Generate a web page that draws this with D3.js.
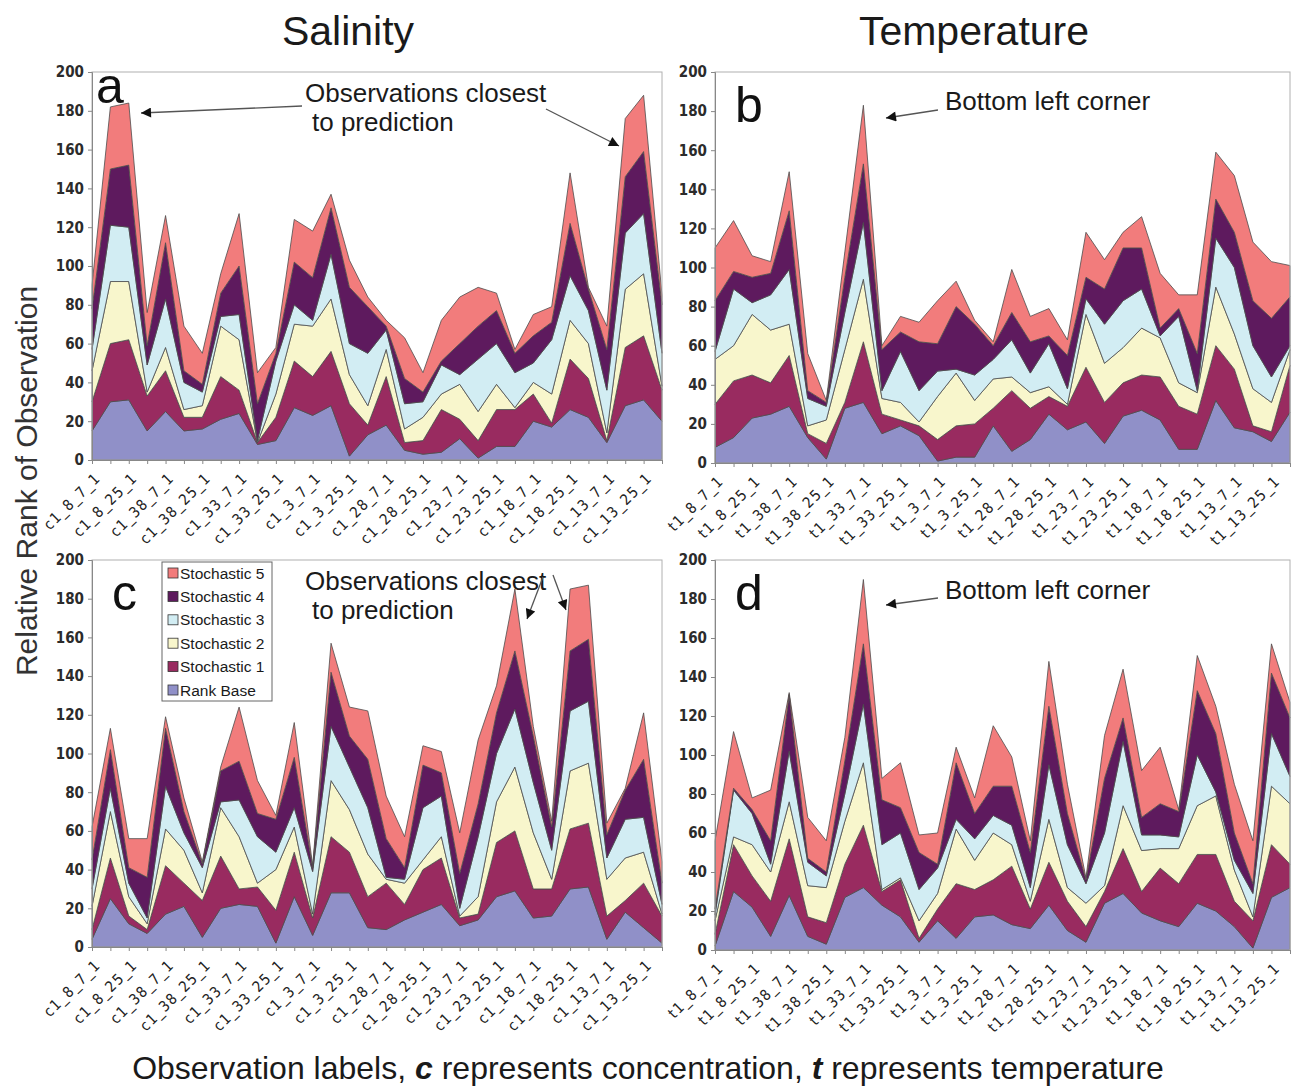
<!DOCTYPE html>
<html>
<head>
<meta charset="utf-8">
<script src="https://cdn.jsdelivr.net/npm/d3@7"></script>
<style>
  body { margin: 0; background: #fff; }
  svg { display: block; font-family: "Liberation Sans", Arial, sans-serif; }
</style>
</head>
<body>
<svg id="chart" width="1294" height="1086"></svg>
<script>
// series, bottom to top of the stack
const seriesNames = ['Rank Base', 'Stochastic 1', 'Stochastic 2', 'Stochastic 3', 'Stochastic 4', 'Stochastic 5'];
const seriesColors = ['#9090c8', '#992b60', '#f8f6cc', '#d2edf3', '#5e1a5e', '#f27c7c'];

// every other observation gets a label on the axis
const salinityLabels = ['c1_8_7_1', 'c1_8_25_1', 'c1_38_7_1', 'c1_38_25_1', 'c1_33_7_1', 'c1_33_25_1', 'c1_3_7_1', 'c1_3_25_1',
  'c1_28_7_1', 'c1_28_25_1', 'c1_23_7_1', 'c1_23_25_1', 'c1_18_7_1', 'c1_18_25_1', 'c1_13_7_1', 'c1_13_25_1'];
const temperatureLabels = ['t1_8_7_1', 't1_8_25_1', 't1_38_7_1', 't1_38_25_1', 't1_33_7_1', 't1_33_25_1', 't1_3_7_1', 't1_3_25_1',
  't1_28_7_1', 't1_28_25_1', 't1_23_7_1', 't1_23_25_1', 't1_18_7_1', 't1_18_25_1', 't1_13_7_1', 't1_13_25_1'];
const yTicks = [0, 20, 40, 60, 80, 100, 120, 140, 160, 180, 200];

// panel a - salinity
const aRank = [15,30,31,15,25,15,16,21,24,8,10,27,23,28,2,13,18,5,3,4,11,1,7,7,20,17,26,22,9,28,31,20];
const aS1 = [15,30,31,18,21,7,6,22,12,1,12,24,20,28,27,5,25,4,7,22,10,9,19,19,14,2,26,20,1,30,33,16];
const aS2 = [16,32,30,2,12,4,6,26,26,0,12,19,26,27,15,10,14,7,12,8,18,15,13,1,6,15,20,18,4,30,32,2];
const aS3 = [11,29,28,14,25,14,7,5,13,1,17,10,3,23,16,27,10,13,8,15,5,27,21,18,10,28,23,17,22,29,31,17];
const aS4 = [21,29,32,10,29,6,4,12,25,19,4,22,22,24,29,24,2,13,5,2,16,17,17,10,14,9,27,11,21,29,32,25];
const aS5 = [12,32,32,17,14,23,16,10,27,16,3,22,24,7,14,5,3,21,10,21,24,20,9,2,11,8,26,1,12,30,29,5];

// panel b - temperature
const bRank = [8,13,23,25,29,13,2,28,31,15,19,14,1,3,3,19,6,12,25,17,21,10,24,27,22,7,7,32,18,16,11,26];
const bS1 = [22,29,22,16,26,2,8,3,31,10,3,5,11,16,17,9,31,16,9,12,28,21,17,18,22,22,18,28,30,3,5,24];
const bS2 = [23,18,31,27,16,4,12,27,32,8,9,2,22,27,12,15,7,8,5,1,27,20,18,24,20,12,11,30,18,19,15,8];
const bS3 = [4,29,6,18,28,14,7,19,29,4,26,16,13,2,13,10,19,10,22,8,8,20,24,20,1,34,1,25,34,22,13,2];
const bS4 = [26,9,13,11,30,4,2,18,30,21,10,25,14,32,26,7,14,16,4,17,11,18,27,21,4,4,19,20,18,23,30,25];
const bS5 = [27,26,11,6,20,19,1,13,30,2,8,10,22,13,2,2,22,13,14,8,23,15,8,16,28,7,30,24,29,30,29,16];

// panel c - salinity
const cRank = [4,25,12,7,17,21,5,20,22,21,2,26,6,28,28,10,9,14,18,22,11,14,26,29,15,16,30,31,4,18,10,2];
const cS1 = [5,21,4,2,25,12,19,27,8,10,17,23,9,29,21,16,24,8,22,24,4,3,28,31,15,14,31,33,12,6,23,14];
const cS2 = [12,24,10,3,19,17,4,25,27,2,21,13,2,29,22,22,2,11,5,11,1,9,21,33,29,5,30,31,19,22,16,1];
const cS3 = [9,12,7,3,22,9,13,3,19,24,9,10,22,28,22,24,1,2,27,21,4,31,25,30,26,15,31,32,11,20,18,5];
const cS4 = [15,20,8,21,30,11,2,16,20,12,17,26,2,28,16,25,20,6,22,12,18,17,21,30,24,12,31,32,12,15,30,11];
const cS5 = [17,11,15,20,6,7,1,2,28,17,2,18,1,15,15,25,22,16,10,11,21,33,14,32,5,3,32,28,6,1,24,11];

// panel d - temperature
const dRank = [2,30,22,7,28,7,3,27,32,23,17,4,15,6,17,18,13,11,23,10,4,24,29,19,15,12,24,20,12,1,27,32];
const dS1 = [6,24,16,18,29,10,11,17,32,7,19,2,6,28,14,18,30,10,22,15,8,6,23,11,27,22,25,29,13,14,27,12];
const dS2 = [7,4,16,15,19,16,18,22,32,1,1,9,8,28,15,24,11,4,22,7,12,3,22,21,10,18,25,30,16,2,30,31];
const dS3 = [3,24,16,4,26,12,6,14,30,23,23,16,13,5,11,9,10,7,28,22,10,27,33,8,7,6,26,2,5,12,27,14];
const dS4 = [3,1,2,12,29,2,2,17,31,23,13,19,2,29,13,15,20,18,30,16,2,28,12,9,16,13,33,30,14,5,31,30];
const dS5 = [35,29,6,26,1,21,16,12,33,11,23,9,16,8,8,31,15,6,23,15,1,22,25,24,29,1,18,14,25,22,15,8];

const panels = [
  {letter: 'a', left: 92, right: 662, top: 72, bottom: 460, labels: salinityLabels, series: [aRank, aS1, aS2, aS3, aS4, aS5]},
  {letter: 'b', left: 715, right: 1290, top: 72, bottom: 463, labels: temperatureLabels, series: [bRank, bS1, bS2, bS3, bS4, bS5]},
  {letter: 'c', left: 92, right: 662, top: 560, bottom: 947, labels: salinityLabels, series: [cRank, cS1, cS2, cS3, cS4, cS5]},
  {letter: 'd', left: 715, right: 1290, top: 560, bottom: 950, labels: temperatureLabels, series: [dRank, dS1, dS2, dS3, dS4, dS5]}
];

const svg = d3.select('#chart');
const narrow = '"DejaVu Sans Condensed", "Liberation Sans Narrow", Arial, sans-serif';

svg.append('defs').append('marker')
    .attr('id', 'head')
    .attr('viewBox', '0 0 10 10')
    .attr('refX', 10).attr('refY', 5)
    .attr('markerWidth', 15).attr('markerHeight', 10)
    .attr('markerUnits', 'userSpaceOnUse')
    .attr('orient', 'auto')
  .append('path')
    .attr('d', 'M0,0L10,5L0,10Z')
    .attr('fill', '#111');

function drawPanel(p) {
  const n = p.series[0].length;
  const x = d3.scalePoint().domain(d3.range(n)).range([p.left, p.right]);
  const y = d3.scaleLinear().domain([0, 200]).range([p.bottom, p.top]);
  const g = svg.append('g').attr('class', 'panel-' + p.letter);

  const rows = d3.range(n).map(i => {
    const r = {};
    seriesNames.forEach((k, j) => r[k] = p.series[j][i]);
    return r;
  });
  const layers = d3.stack().keys(seriesNames)(rows);
  const area = d3.area()
      .x((d, i) => x(i))
      .y0(d => y(d[0]))
      .y1(d => y(d[1]));

  g.selectAll('path.layer')
    .data(layers)
    .join('path')
      .attr('class', 'layer')
      .attr('fill', (d, i) => seriesColors[i])
      .attr('stroke', '#4d4d4d')
      .attr('stroke-width', 0.8)
      .attr('stroke-linejoin', 'round')
      .attr('d', area);

  // plot frame
  g.append('rect')
    .attr('x', p.left).attr('y', p.top)
    .attr('width', p.right - p.left).attr('height', p.bottom - p.top)
    .attr('fill', 'none')
    .attr('stroke', '#b0b0b0');

  const ya = g.append('g')
      .attr('transform', `translate(${p.left},0)`)
      .call(d3.axisLeft(y).tickValues(yTicks).tickSize(4).tickPadding(4));
  ya.select('.domain').attr('stroke', '#888');
  ya.selectAll('.tick line').attr('stroke', '#888');
  ya.selectAll('text')
      .attr('font-family', narrow)
      .attr('font-weight', 'bold')
      .attr('font-size', 15)
      .attr('fill', '#2b2b2b');

  const xa = g.append('g')
      .attr('transform', `translate(0,${p.bottom})`)
      .call(d3.axisBottom(x).tickSize(4).tickFormat(i => i % 2 === 0 ? p.labels[i / 2] : ''));
  xa.select('.domain').attr('stroke', '#888');
  xa.selectAll('.tick line').attr('stroke', '#888');
  xa.selectAll('text')
      .attr('font-family', narrow)
      .attr('font-size', 15)
      .attr('letter-spacing', 1.4)
      .attr('fill', '#222')
      .attr('text-anchor', 'end')
      .attr('y', 0).attr('dy', 0)
      .attr('transform', 'translate(9,19) rotate(-45)');

  g.append('text')
    .attr('x', p.left + (p.letter === 'a' ? 4 : 20))
    .attr('y', p.top + (p.letter === 'a' ? 31 : 50))
    .attr('font-size', 50)
    .attr('fill', '#111')
    .text(p.letter);
}

panels.forEach(drawPanel);

// column titles
svg.append('text').attr('x', 348).attr('y', 45).attr('text-anchor', 'middle')
  .attr('font-size', 41).attr('fill', '#1a1a1a').text('Salinity');
svg.append('text').attr('x', 974).attr('y', 45).attr('text-anchor', 'middle')
  .attr('font-size', 41).attr('fill', '#1a1a1a').text('Temperature');

// axis titles
svg.append('text')
  .attr('transform', 'translate(37,481) rotate(-90)')
  .attr('text-anchor', 'middle')
  .attr('font-size', 30).attr('fill', '#333')
  .text('Relative Rank of Observation');

const bottomTitle = svg.append('text')
  .attr('x', 648).attr('y', 1079)
  .attr('text-anchor', 'middle')
  .attr('font-size', 32).attr('fill', '#1a1a1a');
bottomTitle.append('tspan').text('Observation labels, ');
bottomTitle.append('tspan').attr('font-weight', 'bold').attr('font-style', 'italic').text('c');
bottomTitle.append('tspan').text(' represents concentration, ');
bottomTitle.append('tspan').attr('font-weight', 'bold').attr('font-style', 'italic').text('t');
bottomTitle.append('tspan').text(' represents temperature');

// annotations
function note(lines, x0, y0) {
  const t = svg.append('text').attr('font-size', 26).attr('fill', '#1a1a1a');
  lines.forEach((s, i) => t.append('tspan').attr('x', x0 + (i ? 7 : 0)).attr('y', y0 + i * 29).text(s));
}
function arrow(x1, y1, x2, y2) {
  svg.append('line')
    .attr('x1', x1).attr('y1', y1).attr('x2', x2).attr('y2', y2)
    .attr('stroke', '#555').attr('stroke-width', 1.3)
    .attr('marker-end', 'url(#head)');
}
note(['Observations closest', 'to prediction'], 305, 102);
arrow(302, 106, 141, 113);
arrow(546, 109, 619, 146);
note(['Observations closest', 'to prediction'], 305, 590);
arrow(543, 577, 527, 619);
arrow(553, 575, 566, 610);
note(['Bottom left corner'], 945, 110);
arrow(938, 110, 886, 118);
note(['Bottom left corner'], 945, 599);
arrow(938, 598, 886, 605);

// legend inside panel c, top entry first
const legend = svg.append('g').attr('transform', 'translate(162,562)');
legend.append('rect').attr('width', 110).attr('height', 139)
  .attr('fill', '#fff').attr('stroke', '#666');
const entries = seriesNames.map((s, i) => ({name: s, color: seriesColors[i]})).reverse();
const item = legend.selectAll('g.item')
  .data(entries)
  .join('g')
    .attr('class', 'item')
    .attr('transform', (d, i) => `translate(6,${11 + i * 23.4})`);
item.append('rect')
  .attr('x', 0).attr('y', -5).attr('width', 10).attr('height', 10)
  .attr('fill', d => d.color).attr('stroke', '#333').attr('stroke-width', 0.8);
item.append('text')
  .attr('x', 12).attr('y', 5.5)
  .attr('font-size', 15.5)
  .attr('fill', '#1a1a1a')
  .text(d => d.name);
</script>
</body>
</html>
